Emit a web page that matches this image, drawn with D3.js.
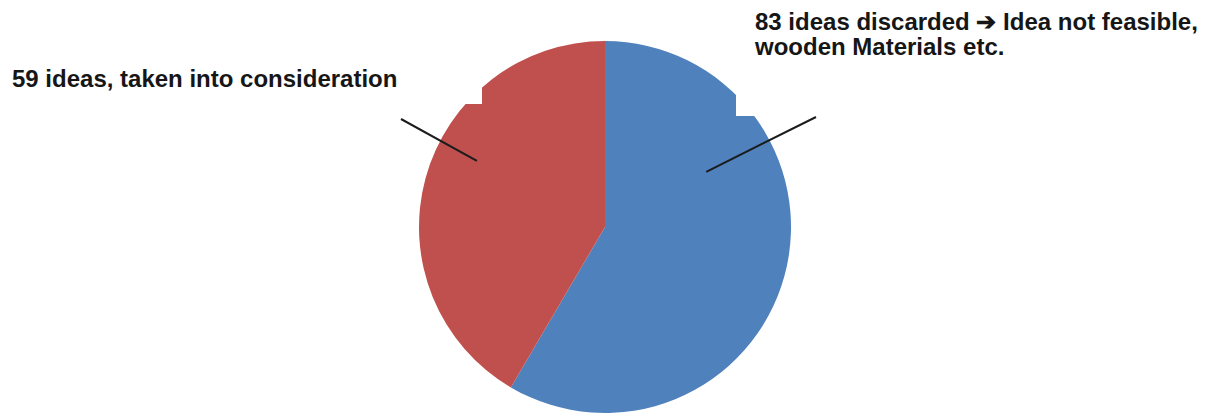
<!DOCTYPE html>
<html>
<head>
<meta charset="utf-8">
<script src="https://cdn.jsdelivr.net/npm/d3@7"></script>
<style>
  body { margin: 0; background: #fff; }
  svg { display: block; }
</style>
</head>
<body>
<svg width="1213" height="416"></svg>
<script>
const categories = ['discarded', 'taken into consideration']
const counts = [83, 59]
const colors = ['#4F81BD', '#C0504D']
const labelLines = [
    ['83 ideas discarded \u2794 Idea not feasible,', 'wooden Materials etc.'],
    ['59 ideas, taken into consideration']
]

const width = 1213, height = 416
const cx = 605, cy = 227, radius = 186

const svg = d3.select('svg')
const g = svg.append('g').attr('transform', `translate(${cx},${cy})`)

const pie = d3.pie().sort(null).value(d => d)
const arcs = pie(counts)
const arc = d3.arc().innerRadius(0).outerRadius(radius)

g.selectAll('path.slice')
    .data(arcs)
    .enter().append('path')
    .attr('class', 'slice')
    .attr('d', arc)
    .attr('fill', (d, i) => colors[i])

// label boxes (white background, clips the pie like in the original)
const boxes = [
    { x: 736, y: 0, w: 477, h: 116 },
    { x: 0, y: 58, w: 482, h: 46 }
]
svg.selectAll('rect.lblbox')
    .data(boxes)
    .enter().append('rect')
    .attr('class', 'lblbox')
    .attr('x', d => d.x).attr('y', d => d.y)
    .attr('width', d => d.w).attr('height', d => d.h)
    .attr('fill', '#fff')

// leader lines: anchor inside slice (angle deg, radius fraction) -> label
const leaders = [
    { a: 61.4, r: 0.62, to: [816, 117] },
    { a: 297.3, r: 0.775, to: [401, 119] }
]
leaders.forEach(l => {
    const p = d3.pointRadial(l.a * Math.PI / 180, l.r * radius)
    const path = d3.path()
    path.moveTo(cx + p[0], cy + p[1])
    path.lineTo(l.to[0], l.to[1])
    svg.append('path')
        .attr('d', path.toString())
        .style('stroke', '#1c1c1c')
        .style('stroke-width', 2)
        .style('fill', 'none')
})

const labelPos = [
    { x: 755, y: 30, dy: 25 },
    { x: 12, y: 87, dy: 25 }
]
labelLines.forEach((lines, i) => {
    const t = svg.append('text')
        .attr('x', labelPos[i].x)
        .attr('y', labelPos[i].y)
        .style('font-family', 'Liberation Sans, Arial, sans-serif')
        .style('font-weight', 'bold')
        .style('font-size', '24px')
        .style('fill', '#161616')
    lines.forEach((s, j) => {
        t.append('tspan')
            .attr('x', labelPos[i].x)
            .attr('dy', j === 0 ? 0 : labelPos[i].dy)
            .text(s)
    })
})
</script>
</body>
</html>
